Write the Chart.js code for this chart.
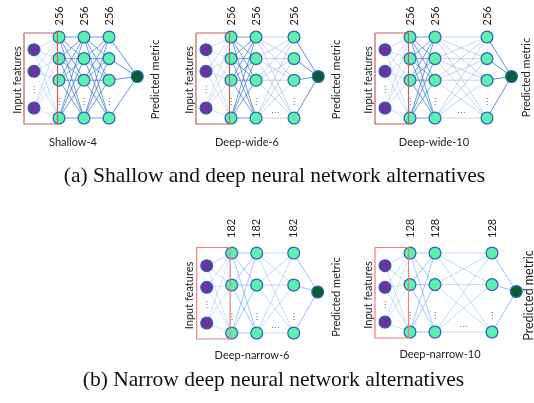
<!DOCTYPE html>
<html>
<head>
<meta charset="utf-8">
<script src="https://cdn.jsdelivr.net/npm/chart.js@4/dist/chart.umd.min.js"></script>
<style>
  html, body { margin: 0; padding: 0; background: #fff; }
  canvas { display: block; }
</style>
</head>
<body>
<canvas id="nets" width="534" height="403"></canvas>
<script>
// Network variants compared in the figure
const networks = ['Shallow-4', 'Deep-wide-6', 'Deep-wide-10', 'Deep-narrow-6', 'Deep-narrow-10'];
const depths = [4, 6, 10, 6, 10];              // layers per network
const neuronsPerLayer = [256, 256, 256, 182, 128];
const shownNeurons = [4, 4, 4, 3, 3];          // neurons drawn per hidden layer (last one after the ellipsis)
const shownInputs = [3, 3, 3, 3, 3];           // input features drawn (last one after the ellipsis)
const sideLabels = ['Input features', 'Predicted metric'];
const captions = ['(a) Shallow and deep neural network alternatives',
                  '(b) Narrow deep neural network alternatives'];

// Placement of each diagram on the page (canvas units)
const SLOT = 25;
const layout = [
  { inX: 34,    top: 37,  bottom: 118, gap: 0,  outGap: 28.3, titleX: 73,  predDx: 18, predDy: 2, predSize: 11,   row: 0 },
  { inX: 206,   top: 37,  bottom: 118, gap: 38, outGap: 24.3, titleX: 247, predDx: 18, predDy: 2, predSize: 11,   row: 0 },
  { inX: 385,   top: 37,  bottom: 118, gap: 52, outGap: 24.5, titleX: 434, predDx: 15, predDy: 0, predSize: 11,   row: 0 },
  { inX: 206.7, top: 253, bottom: 333, gap: 37, outGap: 24,   titleX: 252, predDx: 19, predDy: 4, predSize: 11,   row: 1 },
  { inX: 385,   top: 253, bottom: 332, gap: 57, outGap: 24.3, titleX: 440, predDx: 13, predDy: 3, predSize: 12.5, row: 1 }
];
const rowStyle = [
  { box: '#C0605E', input: 'rgba(120,165,225,0.38)', hidden: 'rgba(40,110,210,0.75)', skip: 'rgba(95,145,215,0.42)', labelGap: 11.5, titleDy: 28, captionY: 181.5 },
  { box: '#F27A7A', input: 'rgba(120,175,240,0.42)', hidden: 'rgba(80,155,240,0.6)',  skip: 'rgba(110,170,240,0.48)', labelGap: 15,   titleDy: 26, captionY: 385.5 }
];

function buildNet(i) {
  const L = layout[i];
  const span = L.bottom - L.top;
  // hidden column positions: shallow nets show every hidden layer, deep ones elide the middle
  const hx = [];
  if (depths[i] <= 4) {
    for (let k = 1; k < depths[i]; k++) hx.push(L.inX + k * SLOT);
  } else {
    hx.push(L.inX + SLOT, L.inX + 2 * SLOT, L.inX + 2 * SLOT + L.gap);
  }
  const outX = hx[hx.length - 1] + L.outGap;
  // hidden rows
  const n = shownNeurons[i];
  const hy = [];
  for (let k = 0; k < n - 1; k++) hy.push(L.top + k * 0.8 * span / (n - 1));
  const hDots = L.top + 0.8 * span;
  hy.push(L.bottom);
  // input rows
  const m = shownInputs[i];
  const iy = [];
  for (let k = 0; k < m - 1; k++) iy.push(L.top + 12.7 + k * 21.6);
  iy.push(L.bottom - 10);
  const iDots = (iy[m - 2] + iy[m - 1]) / 2;
  const outY = (L.top + L.bottom) / 2 - 1;
  return { hx, hy, hDots, iy, iDots, outX, outY };
}

const nets = networks.map((_, i) => buildNet(i));

function edgeList(ax, ays, bx, bys) {
  const pts = [];
  ays.forEach(a => bys.forEach(b => {
    pts.push({ x: ax, y: a }, { x: bx, y: b }, { x: null, y: null });
  }));
  return pts;
}

const datasets = [];
nets.forEach((N, i) => {
  const L = layout[i];
  const S = rowStyle[L.row];
  const inPts = N.iy.map(y => ({ x: L.inX, y }));
  const hidPts = [];
  N.hx.forEach(x => N.hy.forEach(y => hidPts.push({ x, y })));

  // connections
  datasets.push({ data: edgeList(L.inX, N.iy, N.hx[0], N.hy), showLine: true, pointRadius: 0,
    borderColor: S.input, borderWidth: 0.9, order: 5 });
  for (let k = 0; k < N.hx.length - 1; k++) {
    const skipped = depths[i] > 4 && k === N.hx.length - 2;
    datasets.push({ data: edgeList(N.hx[k], N.hy, N.hx[k + 1], N.hy), showLine: true, pointRadius: 0,
      borderColor: skipped ? S.skip : S.hidden, borderWidth: 0.9, order: 5 });
  }
  datasets.push({ data: edgeList(N.hx[N.hx.length - 1], N.hy, N.outX, [N.outY]), showLine: true, pointRadius: 0,
    borderColor: S.hidden, borderWidth: 1, order: 5 });

  // neurons
  datasets.push({ data: inPts, pointRadius: 5.9, pointBackgroundColor: '#7030A0',
    pointBorderColor: '#2E62B0', pointBorderWidth: 1.3, order: 2 });
  datasets.push({ data: hidPts, pointRadius: 5.9, pointBackgroundColor: '#5DF1B1',
    pointBorderColor: '#2B6CB5', pointBorderWidth: 1.3, order: 2 });
  datasets.push({ data: [{ x: N.outX, y: N.outY }], pointRadius: 5.9, pointBackgroundColor: '#0B5B37',
    pointBorderColor: '#2B6CB5', pointBorderWidth: 1.3, order: 2 });

  // input-layer frame
  const bl = L.inX - 10, br = N.hx[0] - 1.5;
  const bt = L.top - (L.row === 0 ? 4 : 5.5), bb = L.bottom + 6;
  datasets.push({ data: [{ x: bl, y: bt }, { x: br, y: bt }, { x: br, y: bb }, { x: bl, y: bb }, { x: bl, y: bt }],
    showLine: true, pointRadius: 0, borderColor: S.box, borderWidth: 1.2, order: 0 });
});

const TEXT_FONT = 'Lato, "Noto Sans", sans-serif';

function rotatedText(ctx, t, px, py, align) {
  ctx.save();
  ctx.translate(px, py);
  ctx.rotate(-Math.PI / 2);
  ctx.textAlign = align;
  ctx.textBaseline = 'middle';
  ctx.fillText(t, 0, 0);
  ctx.restore();
}

const textPlugin = {
  id: 'netText',
  afterDatasetsDraw(chart) {
    const ctx = chart.ctx;
    const X = v => chart.scales.x.getPixelForValue(v);
    const Y = v => chart.scales.y.getPixelForValue(v);
    ctx.save();
    nets.forEach((N, i) => {
      const L = layout[i];
      const S = rowStyle[L.row];
      const mid = (L.top + L.bottom) / 2;
      ctx.fillStyle = '#222';
      ctx.font = '11px ' + TEXT_FONT;
      // layer widths above each hidden column
      N.hx.forEach(x => rotatedText(ctx, String(neuronsPerLayer[i]), X(x), Y(L.top - S.labelGap), 'left'));
      // side labels
      rotatedText(ctx, sideLabels[0], X(L.inX - 17), Y(mid + 2.5), 'center');
      ctx.font = L.predSize + 'px ' + TEXT_FONT;
      rotatedText(ctx, sideLabels[1], X(N.outX + L.predDx), Y(mid + L.predDy), 'center');
      // network name
      ctx.font = '11px ' + TEXT_FONT;
      ctx.textAlign = 'center';
      ctx.textBaseline = 'alphabetic';
      ctx.fillText(networks[i], X(L.titleX), Y(L.bottom + S.titleDy));
      // ellipses for omitted neurons, inputs and layers
      ctx.fillStyle = '#555';
      ctx.font = '8px "DejaVu Sans", sans-serif';
      ctx.textBaseline = 'middle';
      N.hx.forEach(x => ctx.fillText('\u22EE', X(x), Y(N.hDots)));
      ctx.fillText('\u22EE', X(L.inX), Y(N.iDots));
      if (depths[i] > 4) {
        const gx = (N.hx[1] + N.hx[2]) / 2;
        ctx.fillText('\u22EF', X(gx), Y(L.bottom - 5));
      }
    });
    // sub-figure captions
    ctx.fillStyle = '#111';
    ctx.font = '21.5px "Liberation Serif", "Times New Roman", serif';
    ctx.textAlign = 'center';
    ctx.textBaseline = 'alphabetic';
    ctx.fillText(captions[0], X(274.5), Y(rowStyle[0].captionY));
    ctx.fillText(captions[1], X(273.5), Y(rowStyle[1].captionY));
    ctx.restore();
  }
};

new Chart(document.getElementById('nets'), {
  type: 'scatter',
  data: { datasets },
  options: {
    responsive: false,
    animation: false,
    devicePixelRatio: 1,
    events: [],
    layout: { padding: 0, autoPadding: false },
    plugins: { legend: { display: false }, tooltip: { enabled: false } },
    scales: {
      x: { type: 'linear', min: 0, max: 534, display: false },
      y: { type: 'linear', min: 0, max: 403, reverse: true, display: false }
    }
  },
  plugins: [textPlugin]
});
</script>
</body>
</html>
